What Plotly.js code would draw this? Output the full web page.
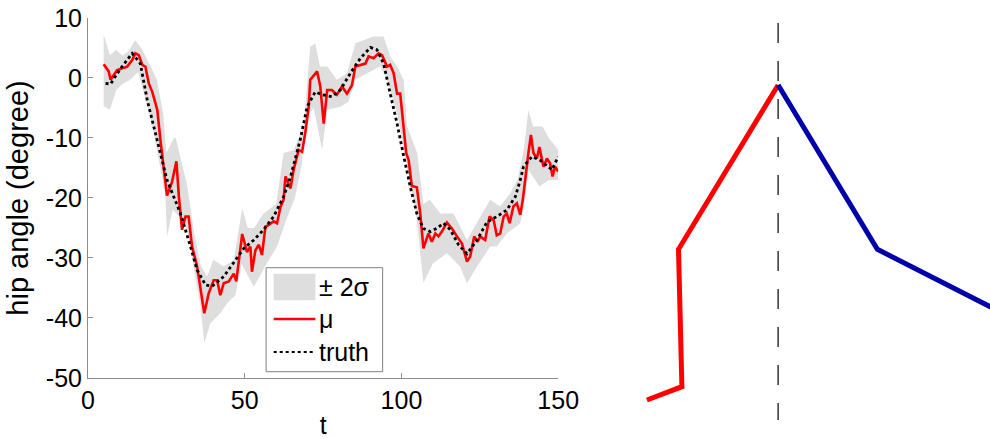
<!DOCTYPE html>
<html>
<head>
<meta charset="utf-8">
<script src="https://cdn.plot.ly/plotly-3.0.1.min.js"></script>
<style>html,body{margin:0;padding:0;background:#fff;}#chart{width:990px;height:439px;}</style>
</head>
<body>
<div id="chart"></div>
<script>
// ---- left panel: hip angle over time ----
const muT = [5.0,6.6,7.2,9.3,10.9,12.5,14.1,15.1,16.2,17.3,18.3,19.4,20.5,22.1,23.1,24.2,25.2,26.3,26.8,28.2,29.0,30.0,31.1,32.1,33.2,34.8,35.9,37.1,38.5,40.1,41.2,42.2,43.3,44.9,46.5,47.3,49.2,50.7,51.8,52.3,53.4,54.5,55.5,56.6,57.6,59.2,60.3,61.4,62.4,63.0,64.6,65.6,67.2,68.3,69.3,70.4,70.9,73.1,74.1,75.2,76.3,77.8,79.4,81.0,82.6,84.2,85.3,86.9,88.5,89.5,91.1,92.7,93.8,95.4,96.4,97.5,98.6,99.6,100.7,101.5,102.3,103.3,104.9,106.0,107.0,108.6,109.7,110.8,111.8,112.9,114.5,116.1,117.7,119.3,120.9,121.9,123.2,124.3,125.1,126.7,128.1,129.4,130.4,131.5,132.6,133.6,134.5,135.7,136.8,137.9,138.7,139.5,140.5,141.3,142.1,143.2,144.0,145.3,146.4,147.4,148.2,149.0,150.0];
const muY = [2.3,1.1,-0.3,1.3,1.6,1.9,3.0,4.1,3.8,2.2,1.9,-0.9,-2.3,-5.3,-10.3,-14.8,-19.6,-18.1,-17.3,-13.9,-19.8,-25.3,-23.1,-23.1,-28.1,-31.4,-35.3,-39.2,-35.9,-33.7,-33.7,-36.2,-34.2,-33.9,-32.6,-33.9,-26.0,-29.0,-28.1,-32.3,-28.7,-27.8,-29.5,-24.8,-24.5,-23.9,-24.2,-21.5,-20.3,-16.4,-18.4,-15.3,-12.0,-12.3,-9.2,-4.8,-0.3,1.1,-1.4,-7.6,-2.0,-2.0,-2.8,-1.4,-2.6,-1.2,1.9,2.2,2.4,3.6,3.3,4.1,3.8,1.9,2.2,0.8,-2.6,-2.6,-8.1,-12.5,-13.7,-18.0,-18.2,-22.6,-28.4,-25.9,-27.3,-25.9,-26.4,-25.6,-24.1,-25.1,-26.4,-27.6,-30.6,-29.8,-26.4,-27.3,-26.4,-27.0,-23.1,-23.7,-26.2,-25.9,-23.1,-22.6,-24.2,-21.4,-20.9,-22.8,-20.3,-16.4,-12.5,-9.5,-12.5,-13.4,-11.5,-14.8,-13.4,-14.2,-16.4,-14.8,-15.6];

const truthT = [5.6,7.2,9.0,11.0,14.1,16.7,18.9,21.0,23.1,25.2,27.9,29.5,32.7,34.8,37.5,39.6,43.3,47.6,49.7,52.9,56.0,59.2,62.4,64.6,67.7,69.9,72.5,74.7,77.8,80.5,83.7,86.9,90.1,92.2,94.3,96.4,98.6,100.7,102.8,104.9,107.0,109.2,111.5,113.4,115.6,118.2,120.9,124.1,127.3,130.4,133.6,136.3,137.9,138.9,141.6,144.2,148.0,150.0];
const truthY = [-0.9,-1.0,0.5,2.0,4.1,2.4,-3.7,-8.1,-12.5,-17.0,-20.5,-22.6,-28.1,-32.0,-34.5,-34.7,-33.1,-29.8,-28.4,-27.0,-25.3,-23.1,-19.8,-16.5,-10.3,-4.8,-2.3,-2.8,-3.1,-2.0,0.8,3.3,5.1,4.7,2.4,-2.6,-7.6,-13.0,-18.1,-22.6,-25.1,-25.6,-25.0,-24.2,-25.3,-27.8,-29.3,-27.0,-24.0,-23.1,-22.0,-19.8,-17.0,-14.8,-13.1,-13.7,-15.3,-13.1];

const upperT = [5,7,9,11,13,15,17,19,22,24,25,27.4,28,29.5,31.6,33.7,35.9,38,40,43.3,46.5,49.2,51,53,56,60,62.4,65.6,68.8,70.9,72.5,74,76.3,79.4,82.6,85.3,88,91.1,94.3,96.4,98.6,100.7,101.8,105,107,109,112.4,116.6,120.9,124.1,128.3,131.5,134.7,137,139,140.5,142,145,147,150];
const upperY = [7.2,3.8,4.7,3.7,4.5,6.3,5.0,3.0,-0.3,-6.0,-12.5,-10.0,-10.0,-13.1,-17.8,-25.3,-31.2,-33.1,-30.3,-31.4,-30.3,-21.7,-25.0,-25.0,-22.6,-21.0,-12.5,-12.0,-8.1,5.2,5.8,1.9,1.9,-0.3,0.8,5.8,6.3,6.9,6.9,3.6,1.9,-0.3,-8.1,-12.5,-21.0,-20.3,-22.6,-22.6,-27.0,-24.2,-20.3,-21.4,-19.2,-17.0,-12.0,-5.3,-8.1,-8.1,-10.0,-12.0];
const lowerT = [5,7,9,11,13.5,16,19,21,23,24.7,25.2,27,29,31.6,33.7,35.9,37.1,39,42.2,44.4,47,49,52.9,57,60.3,63,66,68,69.9,72,74.7,76.3,80.5,83,85.3,89,93.2,95.4,98.6,100.7,102.5,104.5,107,110,114.5,118.7,120.9,124.1,128.3,130.4,133.6,137.9,139.5,140.5,144,147,150];
const lowerY = [-4.7,-5.3,-2.0,-1.0,-0.3,1.0,-4.8,-9.2,-14.8,-19.8,-26.4,-22.0,-23.0,-25.3,-31.4,-38.1,-44.2,-40.9,-39.2,-37.5,-36.2,-31.0,-34.8,-30.9,-28.1,-24.0,-20.0,-15.0,-6.4,-5.0,-12.0,-5.3,-4.8,-4.0,-0.3,0.8,1.9,-0.3,-5.9,-11.4,-17.0,-22.0,-34.2,-30.9,-29.2,-31.4,-34.2,-31.4,-28.1,-28.1,-25.9,-24.2,-20.0,-15.3,-18.1,-17.0,-17.0];

const xTickVals = [0, 50, 100, 150];
const yTickVals = [-50, -40, -30, -20, -10, 0, 10];
const yTickText = ['-50', '-40', '-30', '-20', '-10', '0', '10'];
const legendNames = ['\u00b1 2\u03c3', '\u03bc', 'truth'];

// ---- right panel: schematic ----
const redX = [-1.313, -0.963, -0.997, 0];
const redY = [0.39, 0.523, 1.897, 3.54];
const blueX = [0, 0.993, 2.30];
const blueY = [3.54, 1.897, 1.232];
const dashX = [0, 0];
const dashY = [4.16, 0.19];

const bandX = upperT.concat(lowerT.slice().reverse());
const bandY = upperY.concat(lowerY.slice().reverse());

const FONT = '"Liberation Sans", Arial, Helvetica, sans-serif';
const W = 990, H = 439, ML = 87.5;
const PW = W - ML;
// pixel -> paper helpers (layout only, for the legend box)
const px = X => (X - ML) / PW;
const py = Y => 1 - Y / H;

const BAND_COLOR = '#dedede';
const RED = '#ff0000';

const traces = [
  {x: bandX, y: bandY, type: 'scatter', mode: 'lines', fill: 'toself',
   fillcolor: BAND_COLOR, line: {width: 0, color: BAND_COLOR}, name: legendNames[0],
   xaxis: 'x', yaxis: 'y'},
  {x: muT, y: muY, type: 'scatter', mode: 'lines', line: {color: RED, width: 2.6},
   name: legendNames[1], xaxis: 'x', yaxis: 'y'},
  {x: truthT, y: truthY, type: 'scatter', mode: 'lines',
   line: {color: '#000000', width: 2.8, dash: 'dot'}, name: legendNames[2], xaxis: 'x', yaxis: 'y'},
  {x: dashX, y: dashY, type: 'scatter', mode: 'lines',
   line: {color: '#333333', width: 1.5, dash: '20px,18px'}, xaxis: 'x2', yaxis: 'y2'},
  {x: redX, y: redY, type: 'scatter', mode: 'lines', line: {color: RED, width: 5},
   xaxis: 'x2', yaxis: 'y2'},
  {x: blueX, y: blueY, type: 'scatter', mode: 'lines', line: {color: '#0000aa', width: 5},
   xaxis: 'x2', yaxis: 'y2'}
];

// legend (drawn as layout shapes + text annotations)
const legX0 = 265.7, legX1 = 382.3, legY0 = 267.7, legY1 = 371.7;
const symX0 = 273.3, symX1 = 315, textX = 318;
const rowY = [287, 319, 352];
const shapes = [
  {type: 'rect', xref: 'paper', yref: 'paper', x0: px(legX0), x1: px(legX1), y0: py(legY1), y1: py(legY0),
   fillcolor: '#ffffff', line: {color: '#808080', width: 1}, layer: 'above'},
  {type: 'rect', xref: 'paper', yref: 'paper', x0: px(symX0), x1: px(symX1), y0: py(rowY[0] + 13.3), y1: py(rowY[0] - 13.3),
   fillcolor: BAND_COLOR, line: {width: 0}, layer: 'above'},
  {type: 'line', xref: 'paper', yref: 'paper', x0: px(symX0), x1: px(symX1), y0: py(rowY[1]), y1: py(rowY[1]),
   line: {color: RED, width: 2.6}, layer: 'above'},
  {type: 'line', xref: 'paper', yref: 'paper', x0: px(symX0), x1: px(symX1), y0: py(rowY[2]), y1: py(rowY[2]),
   line: {color: '#000000', width: 2.2, dash: 'dot'}, layer: 'above'}
];
const annotations = legendNames.map((name, i) => ({
  xref: 'paper', yref: 'paper', x: px(textX), y: py(rowY[i]), xanchor: 'left', yanchor: 'middle',
  text: name, showarrow: false, font: {family: FONT, size: 25, color: '#000'}, borderpad: 0
}));

const axisGray = '#8c8c8c';
const layout = {
  width: W, height: H,
  margin: {l: ML, r: 0, t: 0, b: 0, pad: 0},
  paper_bgcolor: '#ffffff', plot_bgcolor: 'rgba(0,0,0,0)',
  font: {family: FONT, size: 24, color: '#000'},
  showlegend: false,
  shapes: shapes,
  annotations: annotations,
  xaxis: {domain: [0, 0.5213], range: [0, 150], tickvals: xTickVals,
    showgrid: false, zeroline: false, showline: true, linecolor: axisGray, linewidth: 1,
    ticks: 'inside', ticklen: 5, tickcolor: axisGray, tickfont: {size: 25},
    title: {text: 't', font: {size: 25}, standoff: 6}, anchor: 'y'},
  yaxis: {domain: [0.139, 0.959], range: [-50, 10], tickvals: yTickVals, ticktext: yTickText,
    showgrid: false, zeroline: false, showline: true, linecolor: axisGray, linewidth: 1,
    ticks: 'inside', ticklen: 5, tickcolor: axisGray, tickfont: {size: 25},
    title: {text: 'hip angle (degree)', font: {size: 29}, standoff: 8}, anchor: 'x'},
  xaxis2: {domain: [0.5679, 1], range: [-1.78, 2.12], visible: false, anchor: 'y2'},
  yaxis2: {domain: [0, 1], range: [0, 4.39], visible: false, anchor: 'x2'}
};

Plotly.newPlot('chart', traces, layout, {displayModeBar: false, staticPlot: true});
</script>
</body>
</html>
